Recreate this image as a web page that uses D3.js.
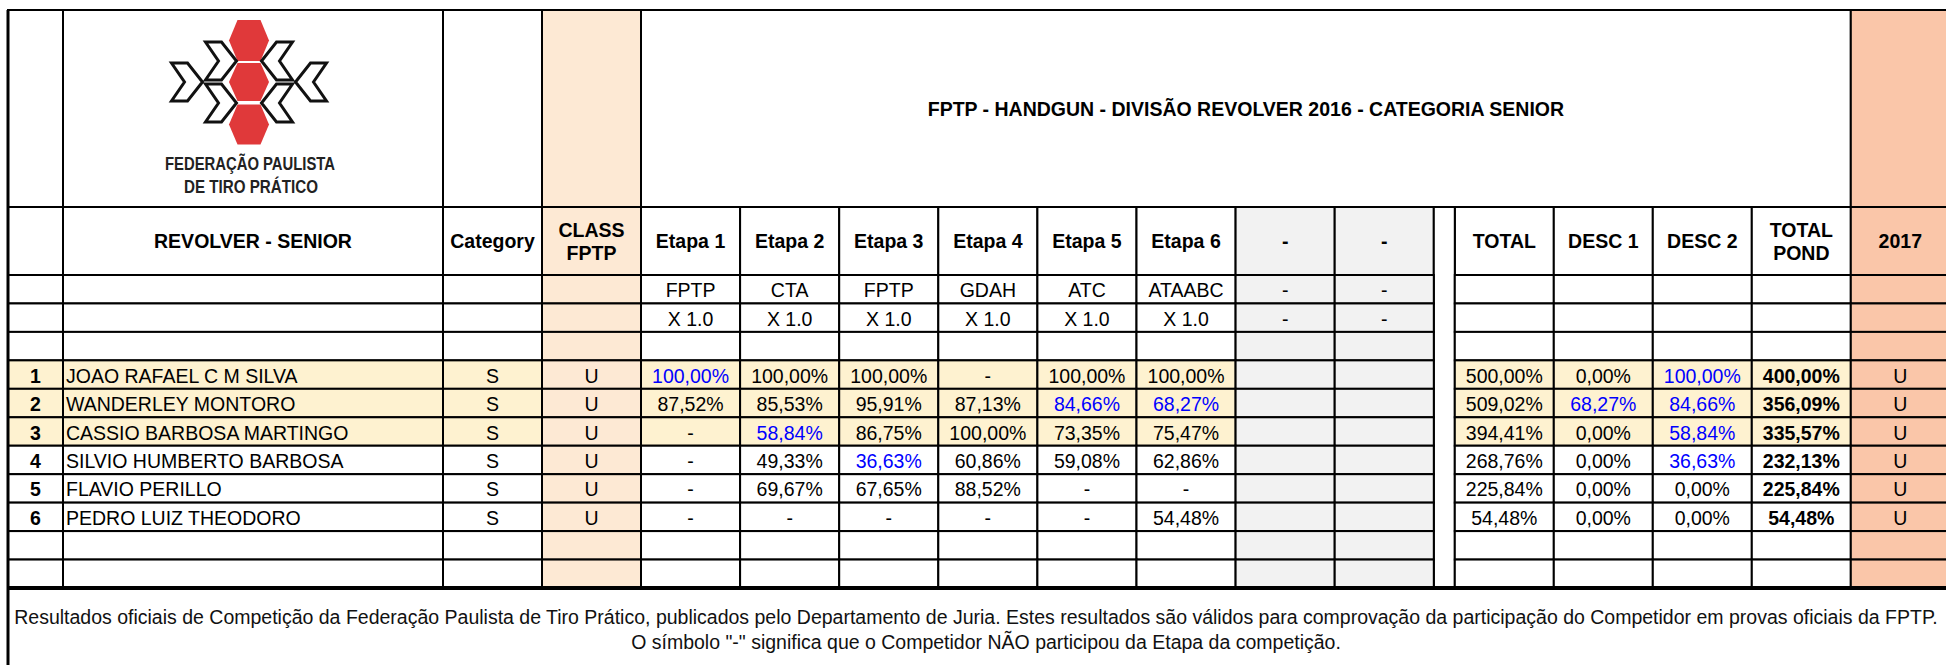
<!DOCTYPE html>
<html>
<head>
<meta charset="utf-8">
<script src="https://cdn.jsdelivr.net/npm/d3@7"></script>
<style>
body { margin: 0; background: #fff; }
text { font-family: "Liberation Sans", Arial, Helvetica, sans-serif; }
</style>
</head>
<body>
<div id="chart"></div>
<script>
// ---- data ----
var ranks = [1, 2, 3, 4, 5, 6];
var names = ["JOAO RAFAEL C M SILVA", "WANDERLEY MONTORO", "CASSIO BARBOSA MARTINGO",
             "SILVIO HUMBERTO BARBOSA", "FLAVIO PERILLO", "PEDRO LUIZ THEODORO"];
var categories = ["S", "S", "S", "S", "S", "S"];
var classes = ["U", "U", "U", "U", "U", "U"];
var etapa1 = [100.00, 87.52, null, null, null, null];
var etapa2 = [100.00, 85.53, 58.84, 49.33, 69.67, null];
var etapa3 = [100.00, 95.91, 86.75, 36.63, 67.65, null];
var etapa4 = [null, 87.13, 100.00, 60.86, 88.52, null];
var etapa5 = [100.00, 84.66, 73.35, 59.08, null, null];
var etapa6 = [100.00, 68.27, 75.47, 62.86, null, 54.48];
var total = [500.00, 509.02, 394.41, 268.76, 225.84, 54.48];
var desc1 = [0, 68.27, 0, 0, 0, 0];
var desc2 = [100.00, 84.66, 58.84, 36.63, 0, 0];
var totalPond = [400.00, 356.09, 335.57, 232.13, 225.84, 54.48];
var class2017 = ["U", "U", "U", "U", "U", "U"];
// etapas descartadas (mostradas em azul)
var discarded = [[1], [5, 6], [2], [3], [], []];

var stageLabels = ["Etapa 1", "Etapa 2", "Etapa 3", "Etapa 4", "Etapa 5", "Etapa 6", "-", "-"];
var stageClubs = ["FPTP", "CTA", "FPTP", "GDAH", "ATC", "ATAABC", "-", "-"];
var stageWeights = ["X 1.0", "X 1.0", "X 1.0", "X 1.0", "X 1.0", "X 1.0", "-", "-"];

var title = "FPTP - HANDGUN - DIVISÃO REVOLVER 2016 - CATEGORIA SENIOR";
var footer1 = "Resultados oficiais de Competição da Federação Paulista de Tiro Prático, publicados pelo Departamento de Juria. Estes resultados são válidos para comprovação da participação do Competidor em provas oficiais da FPTP.";
var footer2 = "O símbolo \"-\" significa que o Competidor NÃO participou da Etapa da competição.";

// ---- layout ----
var width = 1946, height = 665;
var fs = 19.5;
var svg = d3.select("#chart").append("svg")
    .attr("width", width)
    .attr("height", height);

var colKeys = ["rank", "name", "cat", "cls", "e1", "e2", "e3", "e4", "e5", "e6", "g1", "g2", "gap", "tot", "d1", "d2", "pond", "y2017"];
var colWidths = [55, 380, 99, 99, 99.1, 99.1, 99.1, 99.1, 99.1, 99.1, 99.1, 99.1, 21, 99, 99, 99, 99, 99];
var left = 8;
var starts = [left].concat(Array.from(d3.cumsum(colWidths), d => left + d));
var x = d3.scaleOrdinal().domain(colKeys).range(starts);
var w = d3.scaleOrdinal().domain(colKeys).range(colWidths);

var topY = 10, head1 = 207, head2 = 275, bottom = 588;
var y = d3.scaleBand().domain(d3.range(11)).range([head2, bottom]);

var fmt = d3.formatLocale({decimal: ",", thousands: ".", grouping: [3], currency: ["R$", ""]}).format(".2f");
var pct = v => v == null ? "-" : fmt(v) + "%";

var stages = [etapa1, etapa2, etapa3, etapa4, etapa5, etapa6];
var players = ranks.map((r, i) => ({
  rank: r, name: names[i], cat: categories[i], cls: classes[i],
  stages: stages.map(s => s[i]), tot: total[i], d1: desc1[i], d2: desc2[i],
  pond: totalPond[i], y2017: class2017[i], disc: discarded[i]
}));

var YELLOW = "#FEF2D0", PEACH = "#FDE9D4", SALMON = "#FAC6A9", GRAY = "#F2F2F2", BLUE = "#0000FF";

function fillFor(key, rowKind) {
  if (key === "cls") return PEACH;
  if (key === "y2017") return SALMON;
  if (key === "g1" || key === "g2") return GRAY;
  if (rowKind === "podium") return YELLOW;
  return "#fff";
}

var grid = svg.append("g");
var labels = svg.append("g");

// top header row
var topCells = [
  {x0: x("rank"), x1: x("name"), fill: "#fff"},
  {x0: x("name"), x1: x("cat"), fill: "#fff"},
  {x0: x("cat"), x1: x("cls"), fill: "#fff"},
  {x0: x("cls"), x1: x("e1"), fill: PEACH},
  {x0: x("e1"), x1: x("y2017"), fill: "#fff"},
  {x0: x("y2017"), x1: x("y2017") + w("y2017"), fill: SALMON}
];
grid.selectAll("rect.top").data(topCells).enter().append("rect")
  .attr("x", d => d.x0).attr("y", topY)
  .attr("width", d => d.x1 - d.x0).attr("height", head1 - topY)
  .attr("fill", d => d.fill).attr("stroke", "#000").attr("stroke-width", 2);

labels.append("text")
  .attr("x", (x("e1") + x("y2017")) / 2).attr("y", (topY + head1) / 2 + 7)
  .attr("text-anchor", "middle").attr("font-size", fs).attr("font-weight", "bold")
  .text(title);

// column header row
var headKeys = colKeys.filter(k => k !== "gap");
var headText = {
  rank: [], name: ["REVOLVER - SENIOR"], cat: ["Category"], cls: ["CLASS", "FPTP"],
  tot: ["TOTAL"], d1: ["DESC 1"], d2: ["DESC 2"], pond: ["TOTAL", "POND"], y2017: ["2017"]
};
["e1", "e2", "e3", "e4", "e5", "e6", "g1", "g2"].forEach((k, i) => headText[k] = [stageLabels[i]]);

grid.selectAll("rect.head").data(headKeys).enter().append("rect")
  .attr("x", d => x(d)).attr("y", head1)
  .attr("width", d => w(d)).attr("height", head2 - head1)
  .attr("fill", d => fillFor(d, "head")).attr("stroke", "#000").attr("stroke-width", 2);

headKeys.forEach(k => {
  var lines = headText[k];
  var cy = (head1 + head2) / 2;
  lines.forEach((t, j) => {
    labels.append("text")
      .attr("x", x(k) + w(k) / 2)
      .attr("y", cy + 7 + (lines.length === 2 ? (j === 0 ? -11.5 : 11.5) : 0))
      .attr("text-anchor", "middle").attr("font-size", fs).attr("font-weight", "bold")
      .text(t);
  });
});

// gap column (merged)
grid.append("rect")
  .attr("x", x("gap")).attr("y", head1).attr("width", w("gap")).attr("height", bottom - head1)
  .attr("fill", "#fff").attr("stroke", "#000").attr("stroke-width", 2);

// body rows
var rowKinds = ["club", "weight", "blank", 0, 1, 2, 3, 4, 5, "blank", "blank"];
var bodyKeys = colKeys.filter(k => k !== "gap");
var cells = [];
rowKinds.forEach((kind, r) => {
  bodyKeys.forEach(k => {
    var p = typeof kind === "number" ? players[kind] : null;
    var c = {row: r, key: k, text: "", color: "#000", bold: false, anchor: "middle",
             fill: fillFor(k, p && p.rank <= 3 ? "podium" : "plain")};
    var si = ["e1", "e2", "e3", "e4", "e5", "e6", "g1", "g2"].indexOf(k);
    if (kind === "club" && si >= 0) c.text = stageClubs[si];
    if (kind === "weight" && si >= 0) c.text = stageWeights[si];
    if (p) {
      if (k === "rank") { c.text = p.rank; c.bold = true; }
      else if (k === "name") { c.text = p.name; c.anchor = "start"; }
      else if (k === "cat") c.text = p.cat;
      else if (k === "cls") c.text = p.cls;
      else if (si >= 0 && si < 6) {
        c.text = pct(p.stages[si]);
        if (p.disc.indexOf(si + 1) >= 0) c.color = BLUE;
      }
      else if (k === "tot") c.text = pct(p.tot);
      else if (k === "d1") { c.text = pct(p.d1); if (p.d1 > 0) c.color = BLUE; }
      else if (k === "d2") { c.text = pct(p.d2); if (p.d2 > 0) c.color = BLUE; }
      else if (k === "pond") { c.text = pct(p.pond); c.bold = true; }
      else if (k === "y2017") c.text = p.y2017;
    }
    cells.push(c);
  });
});

grid.selectAll("rect.cell").data(cells).enter().append("rect")
  .attr("x", d => x(d.key)).attr("y", d => y(d.row))
  .attr("width", d => w(d.key)).attr("height", y.bandwidth())
  .attr("fill", d => d.fill).attr("stroke", "#000").attr("stroke-width", 2);

labels.selectAll("text.cell").data(cells.filter(d => d.text !== "")).enter().append("text")
  .attr("x", d => d.anchor === "start" ? x(d.key) + 3 : x(d.key) + w(d.key) / 2)
  .attr("y", d => y(d.row) + y.bandwidth() / 2 + 8)
  .attr("text-anchor", d => d.anchor)
  .attr("font-size", fs)
  .attr("font-weight", d => d.bold ? "bold" : "normal")
  .attr("fill", d => d.color)
  .text(d => d.text);

// outer borders
svg.append("line").attr("x1", left).attr("x2", width).attr("y1", bottom).attr("y2", bottom)
  .attr("stroke", "#000").attr("stroke-width", 4);
svg.append("line").attr("x1", left).attr("x2", left).attr("y1", topY).attr("y2", height)
  .attr("stroke", "#000").attr("stroke-width", 3);

// footer
svg.append("text").attr("x", 976).attr("y", 624).attr("text-anchor", "middle")
  .attr("font-size", fs).attr("fill", "#111").text(footer1);
svg.append("text").attr("x", 986).attr("y", 649).attr("text-anchor", "middle")
  .attr("font-size", fs).attr("fill", "#111").text(footer2);

// logo
var logo = svg.append("g");
function hexPath(cx, cy, hw, fw, hh) {
  return "M" + (cx - fw) + "," + (cy - hh) + "L" + (cx + fw) + "," + (cy - hh) +
         "L" + (cx + hw) + "," + cy + "L" + (cx + fw) + "," + (cy + hh) +
         "L" + (cx - fw) + "," + (cy + hh) + "L" + (cx - hw) + "," + cy + "Z";
}
[[40.5, 20.5], [82, 19], [124.5, 20]].forEach(h => {
  logo.append("path").attr("d", hexPath(249, h[0], 20, 11.5, h[1])).attr("fill", "#E0393A");
});
function chevron(cx, cy, dir) {
  var W = 31, H = 38, t = 16, n = 13;
  var pts = [[-W / 2, -H / 2], [-W / 2 + t, -H / 2], [W / 2, 0], [-W / 2 + t, H / 2], [-W / 2, H / 2], [-W / 2 + n, 0]];
  return "M" + pts.map(p => (cx + dir * p[0]) + "," + (cy + p[1])).join("L") + "Z";
}
[[187, 82, 1], [221, 61, 1], [221, 103, 1], [311, 82, -1], [277, 61, -1], [277, 103, -1]].forEach(c => {
  logo.append("path").attr("d", chevron(c[0], c[1], c[2]))
    .attr("fill", "#fff").attr("stroke", "#111").attr("stroke-width", 3).attr("stroke-linejoin", "miter");
});
logo.append("text").attr("x", 250).attr("y", 170).attr("text-anchor", "middle")
  .attr("font-size", 18).attr("font-weight", "bold").attr("fill", "#222")
  .attr("textLength", 170).attr("lengthAdjust", "spacingAndGlyphs").text("FEDERAÇÃO PAULISTA");
logo.append("text").attr("x", 251).attr("y", 193).attr("text-anchor", "middle")
  .attr("font-size", 18).attr("font-weight", "bold").attr("fill", "#222")
  .attr("textLength", 134).attr("lengthAdjust", "spacingAndGlyphs").text("DE TIRO PRÁTICO");
</script>
</body>
</html>
